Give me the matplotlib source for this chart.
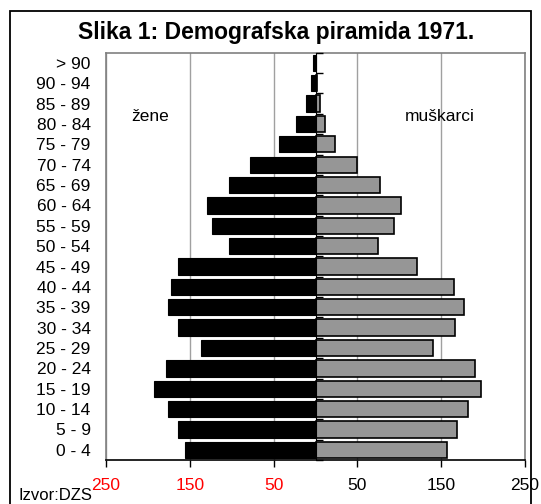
import matplotlib
matplotlib.use("Agg")
import matplotlib.pyplot as plt
from matplotlib.patches import Rectangle

plt.rcParams['font.family'] = ['Liberation Sans', 'DejaVu Sans']

# categories bottom-to-top
age_groups = ["0 - 4", "5 - 9", "10 - 14", "15 - 19", "20 - 24", "25 - 29",
              "30 - 34", "35 - 39", "40 - 44", "45 - 49", "50 - 54", "55 - 59",
              "60 - 64", "65 - 69", "70 - 74", "75 - 79", "80 - 84", "85 - 89",
              "90 - 94", "> 90"]
zene = [156, 164, 176, 193, 178, 137, 164, 176, 172, 164, 103, 124,
        130, 103, 78, 44, 23, 11, 5, 3]
muskarci = [157, 169, 182, 198, 190, 140, 167, 177, 165, 121, 75, 94,
            102, 77, 50, 23, 11, 5, 2, 1]
x_ticks = [-250, -150, -50, 50, 150, 250]
x_tick_labels = ["250", "150", "50", "50", "150", "250"]
x_tick_colors = ["red", "red", "red", "black", "black", "black"]

W, H = 541, 504
fig = plt.figure(figsize=(W / 100, H / 100), dpi=100)

# outer frame
fig.patches.append(Rectangle((9.5 / W, -0.05), (531 - 9.5) / W, 1.05 - 11 / H,
                             transform=fig.transFigure, fill=False,
                             edgecolor="black", linewidth=1.3))

left, right, top, bottom = 106, 525, 52.7, 460
ax = fig.add_axes([left / W, (H - bottom) / H, (right - left) / W, (bottom - top) / H])

y = list(range(len(age_groups)))
ax.barh(y, [-v for v in zene], height=0.8, color="black", edgecolor="black",
        linewidth=0.8, zorder=3)
ax.barh(y, muskarci, height=0.8, color="#969696", edgecolor="black",
        linewidth=1.2, zorder=3)

ax.set_xlim(-250, 250)
ax.set_ylim(-0.5, len(age_groups) - 0.5)

ax.set_xticks(x_ticks)
ax.set_xticklabels(x_tick_labels, fontsize=12.5)
for lbl, c in zip(ax.get_xticklabels(), x_tick_colors):
    lbl.set_color(c)
ax.tick_params(axis="x", direction="out", length=5, width=1, pad=8, color="black")
ax.xaxis.grid(True, color="#a0a0a0", linewidth=1, zorder=0)
ax.set_axisbelow(True)

ax.set_yticks(y)
ax.set_yticklabels(age_groups, fontsize=12.5)
ax.tick_params(axis="y", length=0, pad=11)

for s in ["top", "left", "right"]:
    ax.spines[s].set_color("#808080")
    ax.spines[s].set_linewidth(1.2)
ax.spines["bottom"].set_color("black")
ax.spines["bottom"].set_linewidth(1.2)

# central axis with boundary ticks
sec = ax.secondary_yaxis(0.5)
sec.set_yticks([i - 0.5 for i in range(len(age_groups) + 1)])
sec.set_yticklabels([])
sec.tick_params(direction="out", length=5, width=1, color="black")
sec.spines["left"].set_color("black")
sec.spines["left"].set_linewidth(1.6)
sec.set_zorder(5)

ax.text(-197, 16.35, "žene", fontsize=12.5, ha="center", va="center")
ax.text(148, 16.35, "muškarci", fontsize=12.5, ha="center", va="center")

fig.text(276 / W, 1 - 33 / H, "Slika 1: Demografska piramida 1971.",
         fontsize=16.5, fontweight="bold", ha="center", va="center")
fig.text(18 / W, 1 - 495 / H, "Izvor:DZS", fontsize=12, ha="left", va="center")

fig.savefig("out.png", dpi=100)
